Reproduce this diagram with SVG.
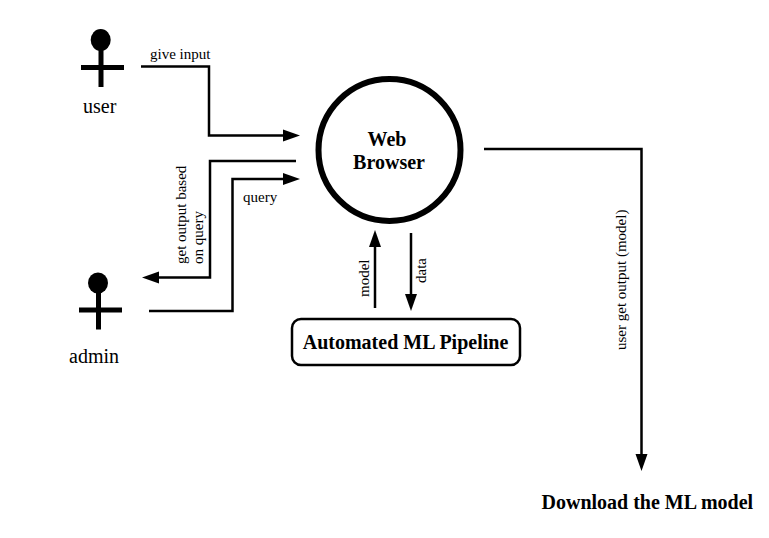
<svg xmlns="http://www.w3.org/2000/svg" width="769" height="538" viewBox="0 0 769 538">
<defs>
<marker id="arrow" markerUnits="userSpaceOnUse" markerWidth="18" markerHeight="14" refX="3" refY="6.5" orient="auto"><path d="M0 0.5L17 6.5L0 12.5Z" fill="#000"/></marker>
</defs>
<style>
text{font-family:"Liberation Serif","Times New Roman",serif;fill:#000}
.b{font-weight:700}
.s{font-size:15px}
.l{font-size:20px}
.c{fill:none;stroke:#000;stroke-width:2.5;marker-end:url(#arrow)}
.n{fill:none;stroke:#000;stroke-width:2.5}
.f{fill:none;stroke:#000;stroke-width:5}
</style>
<rect width="769" height="538" fill="#fff"/>
<g id="connectors">
<path class="c" d="M141 66.5H209V135.500H286"/>
<path class="c" d="M296 161H210V277.500H156"/>
<path class="c" d="M149 311H232.500V179H286"/>
<path class="c" d="M375 308V244"/>
<path class="c" d="M411 233V297"/>
<path class="c" d="M484 149H641.500V457"/>
<text class="s" x="150" y="59">give input</text>
<text class="s" x="243" y="202">query</text>
<text class="s" transform="translate(186 264) rotate(-90)">get output based</text>
<text class="s" transform="translate(203 264) rotate(-90)">on query</text>
<text class="s" transform="translate(369 297) rotate(-90)">model</text>
<text class="s" transform="translate(426 283) rotate(-90)">data</text>
<text class="s" transform="translate(626 350) rotate(-90)">user get output (model)</text>
</g>
<g id="user">
<ellipse cx="100.700" cy="40" rx="10" ry="11"/>
<path class="f" d="M101 45V87M81 67.500H124"/>
<text class="l" x="83" y="113">user</text>
</g>
<g id="admin">
<ellipse cx="98" cy="283" rx="10" ry="10.500"/>
<path class="f" d="M98.500 288V329.500M79 310H122"/>
<text class="l" x="69" y="363">admin</text>
</g>
<g id="web-browser">
<circle cx="389.500" cy="150" r="71" fill="#fff" stroke="#000" stroke-width="6"/>
<text class="b l" x="387" y="146" text-anchor="middle">Web</text>
<text class="b l" x="389" y="169" text-anchor="middle">Browser</text>
</g>
<g id="pipeline">
<rect x="292" y="319" width="228" height="46" rx="9" fill="#fff" stroke="#000" stroke-width="2.500"/>
<text class="b l" x="405.500" y="349" text-anchor="middle">Automated ML Pipeline</text>
</g>
<g id="download">
<text class="b l" x="541.500" y="509">Download the ML model</text>
</g>
</svg>
